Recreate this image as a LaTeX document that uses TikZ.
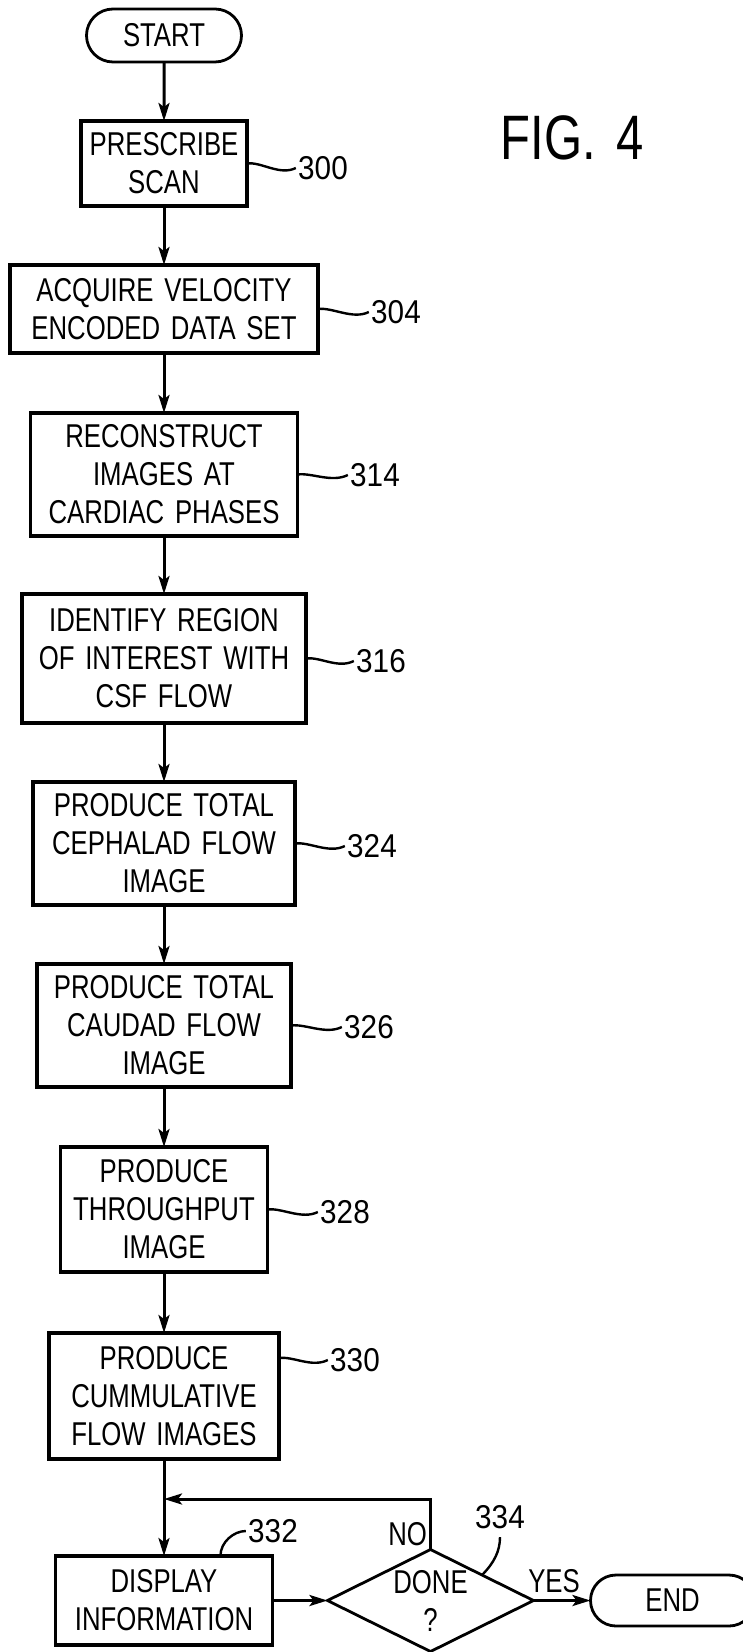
\documentclass[tikz,border=0pt]{standalone}
\usepackage{fontspec}
\setmainfont{Liberation Sans}[FakeStretch=0.78,WordSpace=1.5]
\newfontfamily\numfont{Liberation Sans}[FakeStretch=0.9]
\usetikzlibrary{arrows.meta,positioning,calc,shapes.geometric,shapes.misc}

\begin{document}
\begin{tikzpicture}[
  x=0.5pt, y=-0.5pt,
  every node/.style={font=\fontsize{16.5}{19}\selectfont},
  box/.style={draw, line width=1.7pt, align=center, inner sep=2pt, outer sep=0pt},
  term/.style={draw, rounded rectangle, line width=1.4pt, inner sep=2pt, outer sep=0pt},
  arrow/.style={-{Stealth[length=9pt,width=5.5pt,inset=2pt]}, line width=1.5pt},
  lead/.style={line width=1.2pt},
  num/.style={inner sep=1pt, font=\numfont\fontsize{16.5}{19}\selectfont},
]
  \useasboundingbox (0,0) rectangle (743,1652);

  % main column
  \node[term, minimum width=81.5pt, minimum height=26.5pt] (start) at (164,35.5) {START};
  \node[box, below=29.5pt of start, minimum width=83pt, minimum height=42.5pt] (prescribe) {PRESCRIBE\\SCAN};
  \node[box, below=29.5pt of prescribe, minimum width=154pt, minimum height=44pt] (acquire) {ACQUIRE VELOCITY\\ENCODED DATA SET};
  \node[box, below=30pt of acquire, minimum width=133.5pt, minimum height=61.5pt] (recon) {RECONSTRUCT\\IMAGES AT\\CARDIAC PHASES};
  \node[box, below=29pt of recon, minimum width=142pt, minimum height=64.5pt] (roi) {IDENTIFY REGION\\OF INTEREST WITH\\CSF FLOW};
  \node[box, below=29.5pt of roi, minimum width=131pt, minimum height=61.5pt] (cephalad) {PRODUCE TOTAL\\CEPHALAD FLOW\\IMAGE};
  \node[box, below=29.5pt of cephalad, minimum width=127pt, minimum height=61.5pt] (caudad) {PRODUCE TOTAL\\CAUDAD FLOW\\IMAGE};
  \node[box, below=30pt of caudad, minimum width=103.5pt, minimum height=62.5pt] (throughput) {PRODUCE\\THROUGHPUT\\IMAGE};
  \node[box, below=30.5pt of throughput, minimum width=115pt, minimum height=63pt] (cumulative) {PRODUCE\\CUMMULATIVE\\FLOW IMAGES};
  \node[box, below=48.5pt of cumulative, minimum width=108.5pt, minimum height=44.5pt] (display) {DISPLAY\\INFORMATION};

  % decision row
  \node[diamond, draw, line width=1.4pt, aspect=2, minimum width=103pt, minimum height=51pt, inner sep=0pt, outer sep=0pt, align=center, right=27.5pt of display] (done) {DONE\\?};
  \node[term, right=28.5pt of done, minimum width=86pt, minimum height=25.5pt] (finish) {END};

  \node[font=\fontsize{31.4}{36}\selectfont] (fig) at (572,138) {FIG. 4};

  % reference numerals
  \node[num] (n300) at (323,168) {300};
  \node[num] (n304) at (396,312) {304};
  \node[num] (n314) at (375,475) {314};
  \node[num] (n316) at (381,661) {316};
  \node[num] (n324) at (372,846) {324};
  \node[num] (n326) at (369,1027) {326};
  \node[num] (n328) at (345,1212) {328};
  \node[num] (n330) at (355,1360) {330};
  \node[num] (n332) at (273,1531) {332};
  \node[num] (n334) at (500,1517) {334};

  \draw[lead] (prescribe.east) .. controls +(14,-2) and +(-16,8) .. (n300.west);
  \draw[lead] (acquire.east) .. controls +(14,-2) and +(-16,8) .. (n304.west);
  \draw[lead] (recon.east) .. controls +(14,-2) and +(-16,8) .. (n314.west);
  \draw[lead] (roi.east) .. controls +(14,-2) and +(-16,8) .. (n316.west);
  \draw[lead] (cephalad.east) .. controls +(14,-2) and +(-16,8) .. (n324.west);
  \draw[lead] (caudad.east) .. controls +(14,-2) and +(-16,8) .. (n326.west);
  \draw[lead] (throughput.east) .. controls +(14,-2) and +(-16,8) .. (n328.west);
  \draw[lead] ([yshift=19pt]cumulative.east) .. controls +(14,-2) and +(-16,8) .. (n330.west);
  \draw[lead] ($(display.north west)!0.76!(display.north east)$) .. controls +(0,-14) and +(-12,0) .. (n332.west);
  \draw[lead] ($(done.north)!0.5!(done.east)$) .. controls +(12,-12) and +(0,14) .. ([yshift=-3pt]n334.south);

  % flow
  \draw[arrow] (start) -- (prescribe);
  \draw[arrow] (prescribe) -- (acquire);
  \draw[arrow] (acquire) -- (recon);
  \draw[arrow] (recon) -- (roi);
  \draw[arrow] (roi) -- (cephalad);
  \draw[arrow] (cephalad) -- (caudad);
  \draw[arrow] (caudad) -- (throughput);
  \draw[arrow] (throughput) -- (cumulative);
  \draw[arrow] (cumulative) -- (display);
  \coordinate (merge) at ([yshift=-20pt]cumulative.south);
  \draw[arrow] (done.north) |- node[pos=0.15, left, inner sep=1pt] (no) {NO} (merge);
  \draw[arrow] (display) -- (done);
  \draw[arrow] (done) -- node[above=2pt, xshift=-4pt, inner sep=1pt] (yes) {YES} (finish);
\end{tikzpicture}
\end{document}
